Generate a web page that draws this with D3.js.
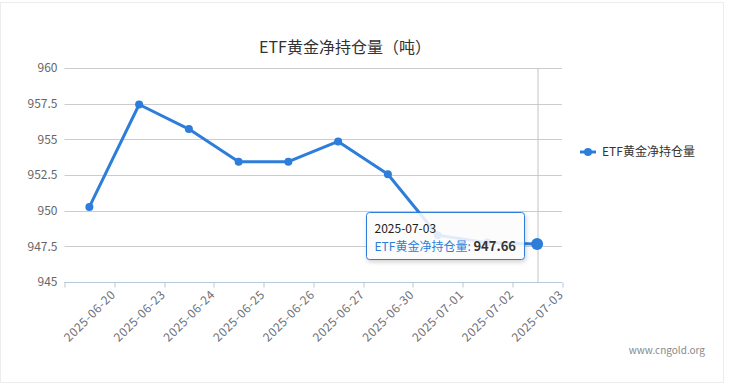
<!DOCTYPE html>
<html>
<head>
<meta charset="utf-8">
<script src="https://cdn.jsdelivr.net/npm/d3@7"></script>
<style>
  body { margin: 0; background: #fff; }
  svg { font-family: "Noto Sans CJK SC", "DejaVu Sans", sans-serif; }
</style>
</head>
<body>
<script>
// chart data
var dates = ["2025-06-20", "2025-06-23", "2025-06-24", "2025-06-25", "2025-06-26",
             "2025-06-27", "2025-06-30", "2025-07-01", "2025-07-02", "2025-07-03"];
var holdings = [950.26, 957.44, 955.72, 953.43, 953.43, 954.85, 952.55, 948.28, 947.76, 947.66];
var yTicks = [945, 947.5, 950, 952.5, 955, 957.5, 960];
var seriesName = "ETF黄金净持仓量";
var titleText = "ETF黄金净持仓量（吨）";
var hoverIndex = 9;

var W = 731, H = 385;
var margin = {left: 64.5, right: 169, top: 68, bottom: 103};
var width = W - margin.left - margin.right;
var height = H - margin.top - margin.bottom;
var lineColor = "#2d7ddb";

var svg = d3.select("body").append("svg")
    .attr("width", W)
    .attr("height", H);

// outer frame
svg.append("rect")
    .attr("x", 0.5).attr("y", 2.5)
    .attr("width", 723).attr("height", 380)
    .attr("fill", "none")
    .attr("stroke", "#ececec");

svg.append("text")
    .attr("x", 345).attr("y", 53)
    .attr("text-anchor", "middle")
    .attr("font-size", 16)
    .attr("fill", "#333")
    .text(titleText);

var g = svg.append("g")
    .attr("transform", "translate(" + margin.left + "," + margin.top + ")");

var x = d3.scaleBand()
    .domain(dates)
    .range([0, width]);

var y = d3.scaleLinear()
    .domain([945, 960])
    .range([height, 0]);

// grid lines
g.append("g")
    .selectAll("line")
    .data(yTicks)
    .enter()
    .append("line")
    .attr("x1", 0).attr("x2", width)
    .attr("y1", function (d) { return Math.round(y(d)) + 0.5; })
    .attr("y2", function (d) { return Math.round(y(d)) + 0.5; })
    .attr("stroke", "#cccccc");

// y labels
g.append("g")
    .selectAll("text")
    .data(yTicks)
    .enter()
    .append("text")
    .attr("x", -7)
    .attr("y", function (d) { return y(d); })
    .attr("dy", "0.35em")
    .attr("text-anchor", "end")
    .attr("font-size", 12)
    .attr("fill", "#666")
    .text(function (d) { return d; });

// x axis
var xAxis = g.append("g")
    .attr("transform", "translate(0," + (height + 0.5) + ")");
xAxis.append("line")
    .attr("x1", 0).attr("x2", width)
    .attr("stroke", "#b7c7dc");
var bounds = d3.range(dates.length + 1);
xAxis.selectAll(".tick")
    .data(bounds)
    .enter()
    .append("line")
    .attr("x1", function (i) { return Math.round(i * x.bandwidth()) + 0.5; })
    .attr("x2", function (i) { return Math.round(i * x.bandwidth()) + 0.5; })
    .attr("y1", 0).attr("y2", 5)
    .attr("stroke", "#b7c7dc");
xAxis.selectAll(".lbl")
    .data(dates)
    .enter()
    .append("text")
    .attr("transform", function (d) {
        return "translate(" + (x(d) + x.bandwidth() - 1) + ",10) rotate(-45)";
    })
    .attr("text-anchor", "end")
    .attr("dy", "0.35em")
    .attr("font-size", 12)
    .attr("letter-spacing", 0.5)
    .attr("fill", "#6e7079")
    .text(function (d) { return d; });

// crosshair
var cx = x(dates[hoverIndex]) + x.bandwidth() / 2;
g.append("line")
    .attr("x1", Math.round(cx) + 0.5).attr("x2", Math.round(cx) + 0.5)
    .attr("y1", 0).attr("y2", height)
    .attr("stroke", "#c4c4c4");

// line
var line = d3.line()
    .x(function (d, i) { return x(dates[i]) + x.bandwidth() / 2; })
    .y(function (d) { return y(d); });

g.append("path")
    .datum(holdings)
    .attr("d", line)
    .attr("fill", "none")
    .attr("stroke", lineColor)
    .attr("stroke-width", 3)
    .attr("stroke-linejoin", "round");

g.append("g")
    .selectAll("circle")
    .data(holdings)
    .enter()
    .append("circle")
    .attr("cx", function (d, i) { return x(dates[i]) + x.bandwidth() / 2; })
    .attr("cy", function (d) { return y(d); })
    .attr("r", function (d, i) { return i === hoverIndex ? 6 : 4; })
    .attr("fill", lineColor);

// legend
var lg = svg.append("g").attr("transform", "translate(580,152)");
lg.append("line")
    .attr("x1", 0).attr("x2", 16)
    .attr("stroke", lineColor).attr("stroke-width", 3);
lg.append("circle")
    .attr("cx", 8).attr("r", 4)
    .attr("fill", lineColor);
lg.append("text")
    .attr("x", 22).attr("dy", "0.35em")
    .attr("font-size", 12)
    .attr("fill", "#333")
    .text(seriesName);

// watermark
svg.append("text")
    .attr("x", 705).attr("y", 354)
    .attr("text-anchor", "end")
    .attr("font-size", 10)
    .attr("fill", "#888")
    .text("www.cngold.org");

// tooltip
var defs = svg.append("defs");
var flt = defs.append("filter").attr("id", "shadow")
    .attr("x", "-10%").attr("y", "-20%").attr("width", "130%").attr("height", "150%");
flt.append("feDropShadow")
    .attr("dx", 1).attr("dy", 2).attr("stdDeviation", 2)
    .attr("flood-color", "#000").attr("flood-opacity", 0.2);

var tip = svg.append("g").attr("transform", "translate(366.5,212.5)");
tip.append("rect")
    .attr("width", 158).attr("height", 47)
    .attr("rx", 3)
    .attr("fill", "rgba(255,255,255,0.85)")
    .attr("stroke", lineColor)
    .attr("filter", "url(#shadow)");
tip.append("text")
    .attr("x", 8).attr("y", 20)
    .attr("font-size", 12)
    .attr("fill", "#222")
    .text(dates[hoverIndex]);
var t2 = tip.append("text")
    .attr("x", 8).attr("y", 38)
    .attr("font-size", 12);
t2.append("tspan")
    .attr("fill", lineColor)
    .text(seriesName + ": ");
t2.append("tspan")
    .attr("fill", "#333")
    .attr("font-weight", "bold")
    .attr("font-size", 13)
    .text(holdings[hoverIndex].toFixed(2));
</script>
</body>
</html>
